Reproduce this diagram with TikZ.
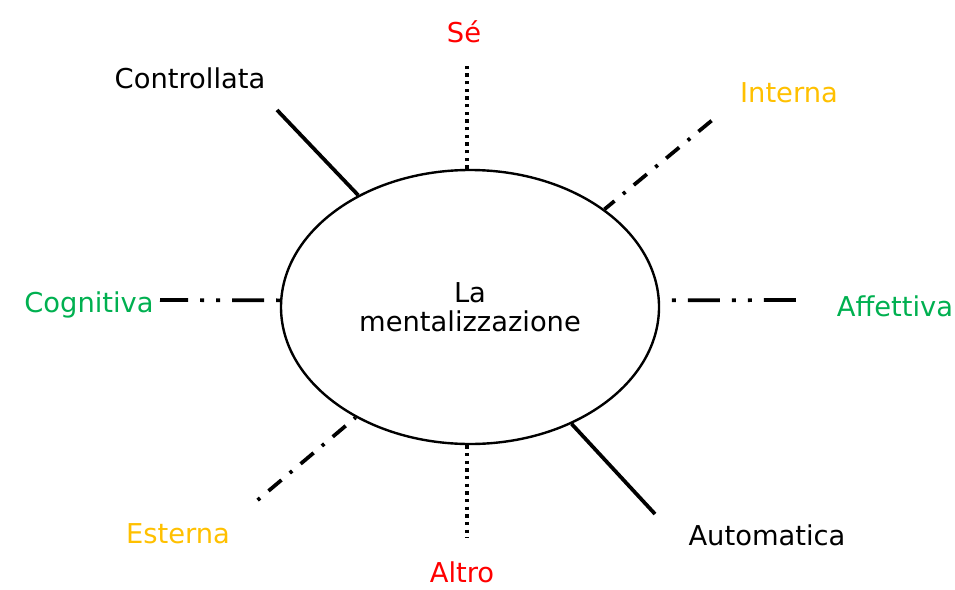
\documentclass[tikz,border=0pt]{standalone}
\usepackage{fontspec}
\setmainfont{DejaVu Sans}
\usepackage{xcolor}
\usepackage{tikz}
\usetikzlibrary{shapes,positioning,calc}

\definecolor{dimred}{HTML}{FF0000}
\definecolor{dimgold}{HTML}{FFC000}
\definecolor{dimgreen}{HTML}{00B050}

\begin{document}
\begin{tikzpicture}[x=0.75pt,y=-0.75pt,
    labeltext/.style={font=\fontsize{20.5}{22}\selectfont, anchor=base},
    spoke/.style={line width=2.8pt},
    dotline/.style={line width=2.7pt, dash pattern=on 2.6pt off 3.15pt},
    dashdot/.style={line width=2.8pt, dash pattern=on 12.75pt off 8.25pt on 2.4pt off 8.1pt},
    dashdotdot/.style={line width=2.8pt, dash pattern=on 24pt off 9pt on 3pt off 9pt on 3pt off 9pt}]
    \useasboundingbox (0,0) rectangle (955,589);

    % Centre
    \node[draw, ellipse, line width=1.8pt, inner sep=0pt, minimum width=283.5pt,
          minimum height=205.5pt, align=center, font=\fontsize{20.5}{21.75}\selectfont]
          (mind) at (470,307) {La\\mentalizzazione};

    % Labels
    \node[labeltext, text=dimred]   (se)          at (464,42)  {Sé};
    \node[labeltext, text=dimred]   (altro)       at (462,582) {Altro};
    \node[labeltext]                (controllata) at (190,88)  {Controllata};
    \node[labeltext]                (automatica)  at (767,545) {Automatica};
    \node[labeltext, text=dimgold]  (interna)     at (789,102) {Interna};
    \node[labeltext, text=dimgold]  (esterna)     at (178,543) {Esterna};
    \node[labeltext, text=dimgreen] (cognitiva)   at (89,312)  {Cognitiva};
    \node[labeltext, text=dimgreen] (affettiva)   at (895,316) {Affettiva};

    % Free ends of the spokes
    \coordinate (se-end)   at (467,66);
    \coordinate (altro-end) at (467,538);
    \coordinate (ctrl-end) at (277,110);
    \coordinate (auto-end) at (655,514);
    \coordinate (int-end)  at (716,117);
    \coordinate (est-end)  at (253,504);
    \coordinate (cog-end)  at (160,300);
    \coordinate (aff-end)  at (797,300);

    % Se / Altro
    \draw[dotline] (se-end |- mind.north) -- (se-end);
    \draw[dotline] (altro-end |- mind.south) -- (altro-end);

    % Controllata / Automatica
    \draw[spoke] (mind.135.5) -- (ctrl-end);
    \draw[spoke] (mind.-49) -- (auto-end);

    % Interna / Esterna
    \draw[dashdot, dash phase=3pt] (mind.36) -- (int-end);
    \draw[dashdot, dash phase=21.75pt] (mind.224) -- (est-end);

    % Cognitiva / Affettiva
    \draw[dashdotdot, dash phase=45pt] (mind.178) -- (cog-end);
    \draw[dashdotdot, dash phase=36pt] (mind.2) -- (aff-end);
\end{tikzpicture}
\end{document}
